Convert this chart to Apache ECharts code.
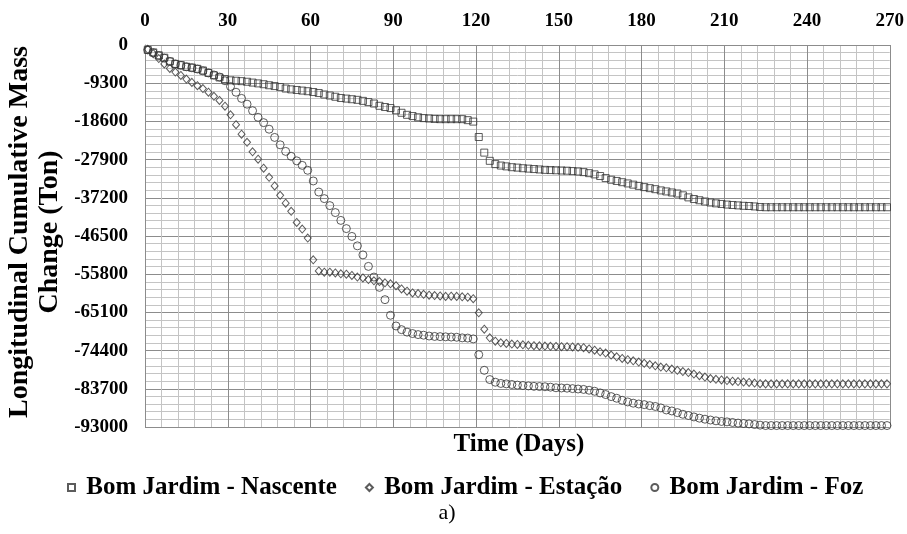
<!DOCTYPE html>
<html>
<head>
<meta charset="utf-8">
<script src="https://cdn.jsdelivr.net/npm/echarts@6/dist/echarts.min.js"></script>
<style>
html,body{margin:0;padding:0;background:#fff;}
#chart{width:907px;height:534px;}
</style>
</head>
<body>
<div id="chart"></div>
<script>
const days = [
  1,3,5,7,9,11,13,15,17,19,
  21,23,25,27,29,31,33,35,37,39,
  41,43,45,47,49,51,53,55,57,59,
  61,63,65,67,69,71,73,75,77,79,
  81,83,85,87,89,91,93,95,97,99,
  101,103,105,107,109,111,113,115,117,119,
  121,123,125,127,129,131,133,135,137,139,
  141,143,145,147,149,151,153,155,157,159,
  161,163,165,167,169,171,173,175,177,179,
  181,183,185,187,189,191,193,195,197,199,
  201,203,205,207,209,211,213,215,217,219,
  221,223,225,227,229,231,233,235,237,239,
  241,243,245,247,249,251,253,255,257,259,
  261,263,265,267,269
];
const nascente = [
  -1200,-1800,-2500,-3100,-4000,-4600,-4900,-5300,-5500,-5800,
  -6200,-6800,-7400,-7900,-8300,-8600,-8700,-8800,-8950,-9150,
  -9350,-9550,-9800,-10000,-10250,-10600,-10800,-10950,-11100,-11250,
  -11450,-11700,-12050,-12300,-12600,-12900,-13050,-13200,-13350,-13600,
  -13900,-14250,-14800,-15100,-15350,-15900,-16500,-17000,-17300,-17600,
  -17800,-17900,-18000,-18050,-18050,-18050,-18050,-18050,-18300,-18650,
  -22400,-26200,-28200,-29000,-29350,-29550,-29750,-29850,-30000,-30100,
  -30200,-30300,-30400,-30450,-30500,-30550,-30600,-30700,-30800,-30950,
  -31200,-31500,-31900,-32400,-32800,-33100,-33400,-33700,-34000,-34300,
  -34600,-34850,-35100,-35400,-35650,-35900,-36150,-36600,-37100,-37500,
  -37800,-38100,-38350,-38550,-38700,-38850,-38950,-39050,-39150,-39200,
  -39300,-39450,-39500,-39500,-39500,-39500,-39500,-39500,-39500,-39500,
  -39500,-39500,-39500,-39500,-39500,-39500,-39500,-39500,-39500,-39500,
  -39500,-39500,-39500,-39500,-39500
];
const estacao = [
  -1050,-2100,-3300,-4600,-5700,-6600,-7400,-8300,-9100,-9900,
  -10600,-11500,-12500,-13500,-14900,-17000,-19400,-21700,-23700,-26000,
  -27800,-30000,-32200,-34300,-36600,-38500,-40500,-43200,-44800,-47000,
  -52300,-55000,-55300,-55300,-55500,-55700,-55800,-56100,-56500,-56700,
  -57100,-57400,-57600,-57900,-58150,-58600,-59400,-59950,-60350,-60500,
  -60700,-60900,-61000,-61100,-61200,-61150,-61200,-61300,-61400,-61750,
  -65200,-69200,-71300,-72100,-72500,-72650,-72800,-72900,-73000,-73100,
  -73200,-73250,-73300,-73350,-73400,-73450,-73450,-73500,-73600,-73700,
  -74000,-74300,-74700,-75000,-75500,-75900,-76300,-76600,-76900,-77200,
  -77500,-77800,-78100,-78400,-78600,-78900,-79200,-79500,-79750,-80100,
  -80500,-80850,-81200,-81400,-81550,-81700,-81850,-81950,-82050,-82150,
  -82300,-82450,-82500,-82500,-82500,-82500,-82500,-82500,-82500,-82500,
  -82500,-82500,-82500,-82500,-82500,-82500,-82500,-82500,-82500,-82500,
  -82500,-82500,-82500,-82500,-82500
];
const foz = [
  -1200,-1900,-2600,-3200,-4000,-4600,-4950,-5300,-5550,-5850,
  -6300,-6800,-7300,-7800,-8700,-10100,-11500,-13000,-14400,-16000,
  -17600,-18900,-20500,-22500,-24300,-25900,-27100,-28200,-29300,-30500,
  -33100,-35800,-37400,-39100,-40800,-42700,-44700,-46600,-48900,-51100,
  -53900,-56500,-59000,-62000,-65800,-68400,-69300,-69900,-70250,-70500,
  -70650,-70850,-70950,-71000,-71050,-71100,-71150,-71300,-71350,-71550,
  -75400,-79200,-81450,-82100,-82400,-82500,-82650,-82800,-82900,-83000,
  -83100,-83150,-83200,-83300,-83450,-83500,-83550,-83650,-83750,-83850,
  -84050,-84300,-84700,-85100,-85600,-86000,-86500,-86900,-87200,-87400,
  -87550,-87800,-88000,-88350,-88850,-89100,-89500,-89900,-90200,-90550,
  -90850,-91100,-91300,-91500,-91650,-91750,-91900,-92050,-92150,-92250,
  -92400,-92550,-92650,-92650,-92650,-92650,-92650,-92650,-92650,-92650,
  -92650,-92650,-92650,-92650,-92650,-92650,-92650,-92650,-92650,-92650,
  -92650,-92650,-92650,-92650,-92650
];
const seriesNames = ['Bom Jardim - Nascente', 'Bom Jardim - Estação', 'Bom Jardim - Foz'];
const xTicks = [0, 30, 60, 90, 120, 150, 180, 210, 240, 270];
const yTicks = [0, -9300, -18600, -27900, -37200, -46500, -55800, -65100, -74400, -83700, -93000];
const xTitle = 'Time (Days)';
const yTitle = 'Longitudinal Cumulative Mass\nChange (Ton)';
const caption = 'a)';

const FONT = '"Liberation Serif", "Times New Roman", serif';
const MARK = '#333333';
function pairs(vals) { return days.map((d, i) => [d, vals[i]]); }

const chart = echarts.init(document.getElementById('chart'), null, { renderer: 'canvas' });
const mkStyle = { color: 'rgba(255,255,255,0)', borderColor: MARK, borderWidth: 1 };

chart.setOption({
  backgroundColor: '#fff',
  animation: false,
  grid: { left: 145, right: 14, top: 45, bottom: 107, containLabel: false },
  xAxis: {
    type: 'value', position: 'top',
    min: xTicks[0], max: xTicks[xTicks.length - 1], interval: 30,
    axisLine: { show: true, lineStyle: { color: '#8c8c8c', width: 1 } },
    axisTick: { show: false },
    axisLabel: { margin: 14, fontFamily: FONT, fontWeight: 'bold', fontSize: 19, color: '#000',
                 formatter: v => String(v) },
    splitLine: { show: true, lineStyle: { color: '#8c8c8c', width: 1 } },
    minorTick: { show: false, splitNumber: 5 },
    minorSplitLine: { show: true, lineStyle: { color: '#c4c4c4', width: 1 } }
  },
  yAxis: {
    type: 'value',
    min: yTicks[yTicks.length - 1], max: yTicks[0], interval: 9300,
    axisLine: { show: true, lineStyle: { color: '#8c8c8c', width: 1 } },
    axisTick: { show: false },
    axisLabel: { margin: 17, fontFamily: FONT, fontWeight: 'bold', fontSize: 19, color: '#000',
                 formatter: v => String(v) },
    splitLine: { show: true, lineStyle: { color: '#8c8c8c', width: 1 } },
    minorTick: { show: false, splitNumber: 5 },
    minorSplitLine: { show: true, lineStyle: { color: '#c4c4c4', width: 1 } }
  },
  legend: {
    top: 470, left: 62,
    itemWidth: 7, itemHeight: 7, itemGap: 28,
    formatter: name => ' ' + name,
    textStyle: { fontFamily: FONT, fontWeight: 'bold', fontSize: 25, color: '#000' },
    data: [
      { name: seriesNames[0], icon: 'rect' },
      { name: seriesNames[1], icon: 'diamond' },
      { name: seriesNames[2], icon: 'circle' }
    ]
  },
  graphic: [
    { type: 'text', x: 519, y: 445,
      style: { text: xTitle, align: 'center', verticalAlign: 'middle', font: 'bold 25px ' + FONT, fill: '#000' } },
    { type: 'text', x: 35, y: 232, rotation: Math.PI / 2,
      style: { text: yTitle, align: 'center', verticalAlign: 'middle', font: 'bold 28px ' + FONT, lineHeight: 30, fill: '#000' } },
    { type: 'text', x: 447, y: 513,
      style: { text: caption, align: 'center', verticalAlign: 'middle', font: '22px ' + FONT, fill: '#000' } }
  ],
  series: [
    { name: seriesNames[0], type: 'scatter', symbol: 'rect', symbolSize: 7, itemStyle: mkStyle, data: pairs(nascente) },
    { name: seriesNames[1], type: 'scatter', symbol: 'diamond', symbolSize: [7, 8], itemStyle: mkStyle, data: pairs(estacao) },
    { name: seriesNames[2], type: 'scatter', symbol: 'circle', symbolSize: 8, itemStyle: mkStyle, data: pairs(foz) }
  ]
});
</script>
</body>
</html>
